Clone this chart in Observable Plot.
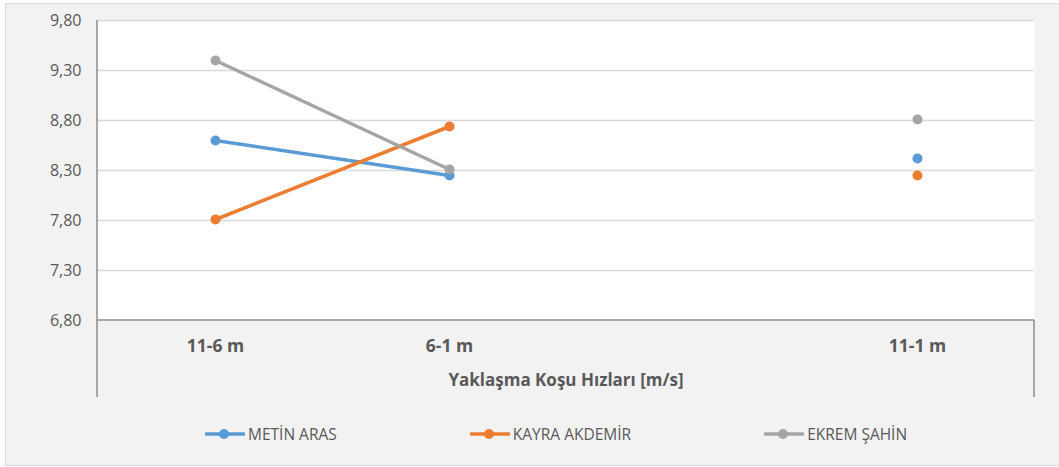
<!DOCTYPE html>
<html>
<head>
<meta charset="utf-8">
<script src="https://cdn.jsdelivr.net/npm/d3@7"></script>
<script src="https://cdn.jsdelivr.net/npm/@observablehq/plot@0.6"></script>
<style>
  html, body { margin: 0; padding: 0; background: #ffffff; }
  body { width: 1059px; height: 467px; position: relative; overflow: hidden; font-family: "Open Sans", "Noto Sans", sans-serif; }
  #frame { position: absolute; left: 5px; top: 3px; width: 1060px; height: 463px; background: #f2f2f2; border: 1px solid #d9d9d9; box-sizing: border-box; }
  #chart { position: absolute; left: 0; top: 0; }
  #legend { position: absolute; left: 205px; top: 423px; display: flex; gap: 133px; align-items: center; font-size: 15.5px; color: #595959; }
  .item { display: flex; align-items: center; }
  .item svg { display: block; margin-right: 3px; }
</style>
</head>
<body>
<div id="frame"></div>
<div id="chart"></div>
<div id="legend"></div>
<script>
// ---- data ----
const categories = ["11-6 m", "6-1 m", "", "11-1 m"];
const seriesNames = ["METİN ARAS", "KAYRA AKDEMİR", "EKREM ŞAHİN"];
const metinAras = [8.60, 8.25, null, 8.42];
const kayraAkdemir = [7.81, 8.74, null, 8.25];
const ekremSahin = [9.40, 8.31, null, 8.81];
const yTicks = [6.80, 7.30, 7.80, 8.30, 8.80, 9.30, 9.80];
const xTitle = "Yaklaşma Koşu Hızları [m/s]";
const colors = ["#5B9BD5", "#ED7D31", "#A5A5A5"];

const seriesValues = [metinAras, kayraAkdemir, ekremSahin];
const rows = [];
seriesNames.forEach((s, i) => {
  categories.forEach((c, j) => {
    rows.push({series: s, cat: c, value: seriesValues[i][j]});
  });
});

const fmt = d => d.toFixed(2).replace(".", ",");

function axisLines(...args) {
  const dims = args.find(a => a && typeof a === "object" && "marginLeft" in a && "width" in a);
  const x0 = dims.marginLeft, x1 = dims.width - dims.marginRight;
  const yTop = dims.marginTop, yBot = dims.height - dims.marginBottom;
  const ext = 77;
  const g = d3.create("svg:g").attr("stroke", "#8c8c8c").attr("stroke-width", 1.5);
  g.append("line").attr("x1", x0).attr("x2", x0).attr("y1", yTop).attr("y2", yBot + ext);
  g.append("line").attr("x1", x1).attr("x2", x1).attr("y1", yBot).attr("y2", yBot + ext);
  g.append("line").attr("x1", x0).attr("x2", x1).attr("y1", yBot).attr("y2", yBot);
  return g.node();
}

const chart = Plot.plot({
  width: 1059,
  height: 410,
  marginLeft: 97,
  marginRight: 25,
  marginTop: 20,
  marginBottom: 90,
  style: {background: "transparent", fontFamily: "'Open Sans', 'Noto Sans', sans-serif", color: "#595959", overflow: "visible"},
  x: {type: "point", domain: categories, padding: 0.5},
  y: {domain: [6.80, 9.80]},
  color: {domain: seriesNames, range: colors},
  marks: [
    Plot.frame({fill: "white", stroke: null}),
    Plot.ruleY(yTicks.slice(1), {stroke: "#d9d9d9", strokeWidth: 1.5}),
    axisLines,
    Plot.axisY({ticks: yTicks, tickFormat: fmt, tickSize: 0, tickPadding: 16, fontSize: 16, fill: "#595959", label: null}),
    Plot.axisX({tickSize: 0, tickPadding: 19, fontSize: 17.5, fontWeight: "bold", fill: "#595959", label: null}),
    Plot.text([xTitle], {frameAnchor: "bottom", dy: 65, fontSize: 17, fontWeight: "bold", fill: "#595959"}),
    Plot.line(rows, {x: "cat", y: "value", z: "series", stroke: "series", strokeWidth: 3.5, strokeLinecap: "round"}),
    Plot.dot(rows, {x: "cat", y: "value", fill: "series", r: 5, stroke: null})
  ]
});
document.getElementById("chart").appendChild(chart);

// legend
const legend = d3.select("#legend");
seriesNames.forEach((s, i) => {
  const item = legend.append("div").attr("class", "item");
  const sv = item.append("svg").attr("width", 40).attr("height", 14);
  sv.append("line").attr("x1", 1).attr("x2", 39).attr("y1", 7).attr("y2", 7)
    .attr("stroke", colors[i]).attr("stroke-width", 3.5).attr("stroke-linecap", "round");
  sv.append("circle").attr("cx", 19).attr("cy", 7).attr("r", 5).attr("fill", colors[i]);
  item.append("span").text(s);
});
</script>
</body>
</html>
